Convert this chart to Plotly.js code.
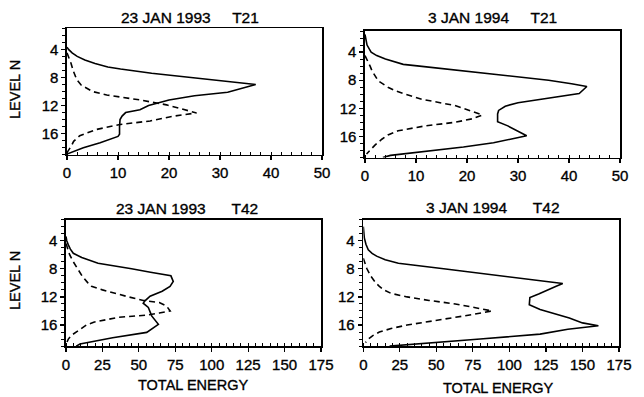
<!DOCTYPE html>
<html>
<head>
<meta charset="utf-8">
<script src="https://cdn.plot.ly/plotly-3.0.1.min.js"></script>
<style>
html,body{margin:0;padding:0;background:#fff;}
#chart{width:644px;height:397px;}
#chart text{stroke:#000;stroke-width:0.35px;}
</style>
</head>
<body>
<div id="chart"></div>
<script>
// ---- Panel 1: 23 JAN 1993 T21 ----
const p1SolidLevel = [3.7,4.0,4.5,5.0,5.5,6.0,6.5,6.8,7.4,8.0,8.5,9.0,10.1,10.6,11.2,11.5,12.0,12.6,13.0,13.5,14.0,15.0,16.1,16.4,17.3,18.0,18.5,18.9];
const p1SolidValue = [0,0.3,1,2,3.5,5.5,8,10.5,16.6,24,30,37,31.5,25,20,18.5,16,14.3,11.5,10.8,10.4,10.3,10.3,10,6.5,3.2,1.2,0];
const p1DashLevel  = [4.5,5.0,6.0,7.0,8.3,9.1,9.5,10.0,10.5,11.2,11.9,12.5,13.05,13.5,14.2,14.7,15.4,16.3,17.1,17.7,18.7];
const p1DashValue  = [0,0.3,0.8,1.2,1.9,2.8,3.9,5,7.8,14.3,19.5,22.5,25.4,21,16.3,10.4,5.8,2.5,1.3,0.9,0];

// ---- Panel 2: 3 JAN 1994 T21 ----
const p2SolidLevel = [1.5,2.0,3.0,4.0,4.5,5.0,5.5,5.75,6.0,7.0,8.0,8.5,8.9,9.9,10.3,10.7,11.2,11.7,12.3,12.8,13.9,14.5,15.2,15.9,16.4,16.9,17.5,18.2,18.7,19.0];
const p2SolidValue = [0,0.1,0.4,1.2,2.3,4.0,6.3,7.5,10.7,23.4,36,40.5,43.5,42,38,34,30,27.5,26.2,26,26,28,30,31.7,28.5,25.2,19.3,11,5,3.5];
const p2DashLevel  = [4.5,5.3,6.0,6.7,7.5,8.1,9.0,9.5,10.0,10.7,11.6,12.3,12.95,13.5,14.0,14.5,15.2,15.8,16.4,17.2,17.9,18.5];
const p2DashValue  = [0,0.6,1,1.4,2,2.6,4.5,5.9,8,11.1,17.6,20.5,23,21,17.6,11.8,6.5,4.5,3.3,2,1,0.3];

// ---- Panel 3: 23 JAN 1993 T42 ----
const p3SolidLevel = [3.4,4.0,4.6,5.2,5.8,6.4,7.2,7.55,8.0,8.5,9.0,9.8,10.5,11.2,11.9,12.6,12.9,13.5,14.7,15.9,17.05,17.8,18.7,19.0];
const p3SolidValue = [0,0.5,1.6,3,5,10.8,22,33,45,58,72,73.6,71.4,66,57.7,54,53,56.5,58.8,63.4,55.4,32,9.6,7];
const p3DashLevel  = [4.4,5.0,6.0,7.0,8.0,9.0,10.0,10.5,11.0,11.6,12.0,12.5,12.8,13.3,14.0,14.3,14.6,14.9,15.3,15.6,16.0,16.6,17.0,17.5,18.0,18.5];
const p3DashValue  = [0,1,2.5,5,8,11,15,17.5,25,35,43,53,64,69,71.5,64,55,36,25,19,14,9.6,6.5,3.5,1.6,0.5];

// ---- Panel 4: 3 JAN 1994 T42 ----
const p4SolidLevel = [2.0,3.0,3.6,4.5,5.3,5.8,6.2,6.7,7.2,8.0,8.8,9.5,10.1,10.5,11.0,11.6,12.1,13.1,13.8,14.5,15.0,15.7,16.1,16.6,17.3,18.0,18.9,19.0];
const p4SolidValue = [0,0.3,0.7,1.8,3.4,6,9.1,15,24,55,86,113,136.5,132,127,120,114,113.6,121,133,141,150,160.9,140,121,80,22.8,18];
const p4DashLevel  = [6.5,7.0,8.0,9.0,10.0,10.5,11.0,11.5,12.0,12.5,13.0,13.5,14.0,14.5,15.0,15.5,16.0,16.5,17.0,17.5,18.0,18.5];
const p4DashValue  = [0,0.8,2.5,5,8.5,11,14,19,30,45,63,76,88,75,60,42,30,19,11,6.5,3.5,1.5];

const panelTitles = ['23 JAN 1993\u00a0\u00a0\u00a0\u00a0\u00a0T21','3 JAN 1994\u00a0\u00a0\u00a0\u00a0\u00a0T21','23 JAN 1993\u00a0\u00a0\u00a0\u00a0\u00a0\u00a0T42','3 JAN 1994\u00a0\u00a0\u00a0\u00a0\u00a0\u00a0T42'];
const yTitle = 'LEVEL N';
const xTitle = 'TOTAL ENERGY';
const yTickVals = [4,8,12,16];
const xTickT21 = [0,10,20,30,40,50];
const xTickT42 = [0,25,50,75,100,125,150,175];

const W = 644, H = 397;
const FONT = 'Liberation Sans, Arial, Helvetica, sans-serif';
// plot boxes in px: [left, right, top, bottom]
const boxes = [[67,322,28.3,154.7],[365,620,31,157.5],[66,321,219.6,346.1],[363.3,619,219.6,346.1]];

const solid = {color:'#000', width:1.6};
const dashed = {color:'#000', width:1.6, dash:'6px,4px'};
const series = [
  [p1SolidValue,p1SolidLevel,p1DashValue,p1DashLevel],
  [p2SolidValue,p2SolidLevel,p2DashValue,p2DashLevel],
  [p3SolidValue,p3SolidLevel,p3DashValue,p3DashLevel],
  [p4SolidValue,p4SolidLevel,p4DashValue,p4DashLevel]
];
const traces = [];
series.forEach((s,i)=>{
  const xa = i===0?'x':'x'+(i+1), ya = i===0?'y':'y'+(i+1);
  traces.push({x:s[0],y:s[1],xaxis:xa,yaxis:ya,mode:'lines',line:solid,showlegend:false,hoverinfo:'skip'});
  traces.push({x:s[2],y:s[3],xaxis:xa,yaxis:ya,mode:'lines',line:dashed,showlegend:false,hoverinfo:'skip'});
});

const layout = {
  width:W, height:H, margin:{l:0,r:0,t:0,b:0},
  paper_bgcolor:'#fff', plot_bgcolor:'#fff', showlegend:false,
  font:{family:FONT, color:'#000', size:14},
  annotations:[]
};
boxes.forEach((b,i)=>{
  const isT21 = i<2;
  const xk = i===0?'xaxis':'xaxis'+(i+1), yk = i===0?'yaxis':'yaxis'+(i+1);
  const ya = i===0?'y':'y'+(i+1), xa = i===0?'x':'x'+(i+1);
  layout[xk] = {
    domain:[b[0]/W, b[1]/W], anchor:ya,
    range: isT21?[0,50]:[0,175],
    tickvals: isT21?xTickT21:xTickT42,
    ticks:'outside', ticklen:4, tickwidth:1.2, tickcolor:'#000',
    minor:{dtick: isT21?2:5, ticks:'inside', ticklen:3, tickwidth:1, tickcolor:'#000'},
    showline:true, mirror:true, linecolor:'#000', linewidth:1.6,
    showgrid:false, zeroline:false, fixedrange:true,
    tickfont:{family:FONT, size:15, color:'#000'}
  };
  layout[yk] = {
    domain:[1-b[3]/H, 1-b[2]/H], anchor:xa,
    range:[19,1], tickvals:yTickVals,
    ticks:'outside', ticklen:4, tickwidth:1.2, tickcolor:'#000',
    minor:{dtick:1, ticks:'outside', ticklen:3, tickwidth:1, tickcolor:'#000'},
    showline:true, mirror:true, linecolor:'#000', linewidth:1.6,
    showgrid:false, zeroline:false, fixedrange:true,
    tickfont:{family:FONT, size:15, color:'#000'}
  };
});
const titlePos = [[190,17],[492,18],[187,208],[493,207]];
titlePos.forEach((p,i)=>{
  layout.annotations.push({xref:'paper',yref:'paper',x:p[0]/W,y:1-p[1]/H,xanchor:'center',yanchor:'middle',
    text:panelTitles[i],showarrow:false,font:{family:FONT,size:15.5,color:'#000'}});
});
[[15,90],[15,281]].forEach(p=>{
  layout.annotations.push({xref:'paper',yref:'paper',x:p[0]/W,y:1-p[1]/H,xanchor:'center',yanchor:'middle',
    text:yTitle,textangle:-90,showarrow:false,font:{family:FONT,size:14.5,color:'#000'}});
});
[[193,385],[498,388]].forEach(p=>{
  layout.annotations.push({xref:'paper',yref:'paper',x:p[0]/W,y:1-p[1]/H,xanchor:'center',yanchor:'middle',
    text:xTitle,showarrow:false,font:{family:FONT,size:14.5,color:'#000'}});
});
Plotly.newPlot('chart', traces, layout, {staticPlot:true, displayModeBar:false});
</script>
</body>
</html>
